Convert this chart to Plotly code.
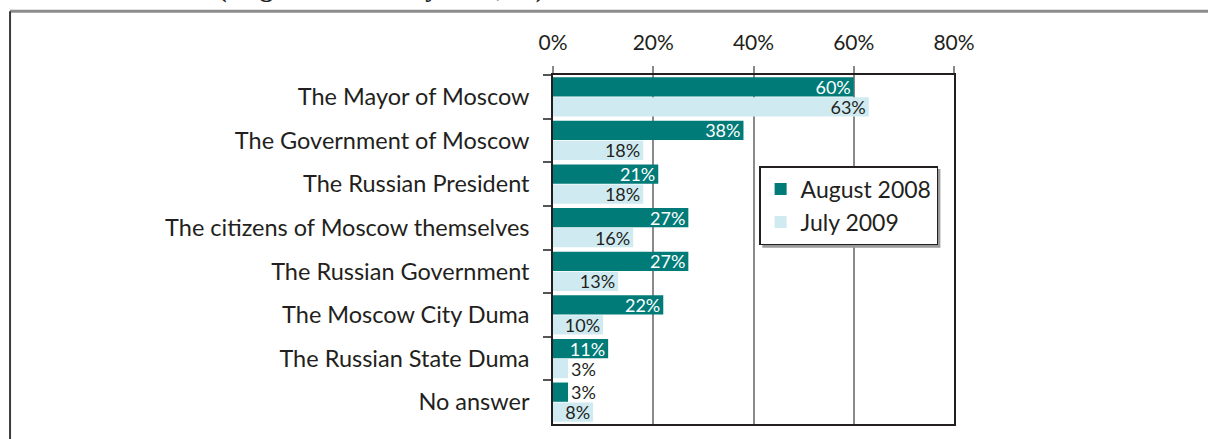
import plotly.graph_objects as go

# who is responsible, share of answers
categories = ["The Mayor of Moscow", "The Government of Moscow", "The Russian President",
              "The citizens of Moscow themselves", "The Russian Government",
              "The Moscow City Duma", "The Russian State Duma", "No answer"]
aug_2008 = [60, 38, 21, 27, 27, 22, 11, 3]
jul_2009 = [63, 18, 18, 16, 13, 10, 3, 8]
x_ticks = [0, 20, 40, 60, 80]

teal = "#007b78"
light = "#cfebf1"
dark = "#231f20"
font_name = "Lato"

def positions(vals):
    return ["outside" if v < 5 else "inside" for v in vals]

fig = go.Figure()
fig.add_trace(go.Bar(
    y=categories, x=aug_2008, orientation="h", name="August 2008",
    marker=dict(color=teal, line=dict(width=0)),
    text=[f"{v}%" for v in aug_2008], textposition=positions(aug_2008),
    insidetextanchor="end", constraintext="none",
    insidetextfont=dict(color="white", size=18, family=font_name),
    outsidetextfont=dict(color=dark, size=18, family=font_name),
    hoverinfo="skip",
))
fig.add_trace(go.Bar(
    y=categories, x=jul_2009, orientation="h", name="July 2009",
    marker=dict(color=light, line=dict(width=0)),
    text=[f"{v}%" for v in jul_2009], textposition=positions(jul_2009),
    insidetextanchor="end", constraintext="none",
    insidetextfont=dict(color=dark, size=18, family=font_name),
    outsidetextfont=dict(color=dark, size=18, family=font_name),
    hoverinfo="skip",
))

# frame around the figure and cut-off title
shapes = [
    dict(type="line", xref="paper", yref="paper", x0=-1.354, x1=1.7, y0=1.183, y1=1.183,
         line=dict(color="#8c8c8c", width=3)),
    dict(type="line", xref="paper", yref="paper", x0=-1.354, x1=-1.354, y0=1.183, y1=-0.1,
         line=dict(color="#3a3a3a", width=2)),
    # legend shadow
    dict(type="rect", xref="paper", yref="paper", x0=0.522, x1=0.966, y0=0.505, y1=0.731,
         fillcolor="#9a9a9a", line=dict(width=0), layer="above"),
]

fig.update_layout(
    width=1208, height=439,
    margin=dict(l=553, r=254, t=75, b=15),
    paper_bgcolor="white", plot_bgcolor="white",
    barmode="group", bargap=0.08, bargroupgap=0.04,
    font=dict(family=font_name, size=23, color=dark),
    showlegend=True,
    legend=dict(x=0.514, y=0.739, xanchor="left", yanchor="top",
                bgcolor="white", bordercolor=dark, borderwidth=1.5,
                font=dict(size=23, family=font_name, color=dark),
                itemclick=False, itemdoubleclick=False, tracegroupgap=6),
    shapes=shapes,
    annotations=[dict(text="<b>(August 2008 – July 2009, %)</b>", xref="paper", yref="paper",
                      x=-0.84, y=1.201, xanchor="left", yanchor="bottom", showarrow=False,
                      font=dict(family="Liberation Serif", size=26, color=dark))],
)
fig.update_xaxes(
    side="top", range=[0, 80], tickvals=x_ticks, ticktext=[f"{v}%" for v in x_ticks],
    tickfont=dict(size=21),
    showgrid=True, gridcolor="#8a8a8a", gridwidth=1.5,
    ticks="outside", ticklen=7, tickcolor="#8a8a8a", tickwidth=1.5,
    showline=True, linecolor=dark, linewidth=1.5, mirror=True,
    ticklabelstandoff=8, zeroline=False, fixedrange=True, automargin=False,
)
fig.update_yaxes(
    autorange="reversed", tickson="boundaries", ticks="outside", ticklen=8,
    tickcolor="#555555", tickwidth=1.5, tickfont=dict(size=23.5),
    showline=True, linecolor=dark, linewidth=1.5, mirror=True,
    ticklabelstandoff=17, fixedrange=True, automargin=False,
)

fig.write_html("out.html", config={"displayModeBar": False},
               post_script="document.body.style.margin='0';")
